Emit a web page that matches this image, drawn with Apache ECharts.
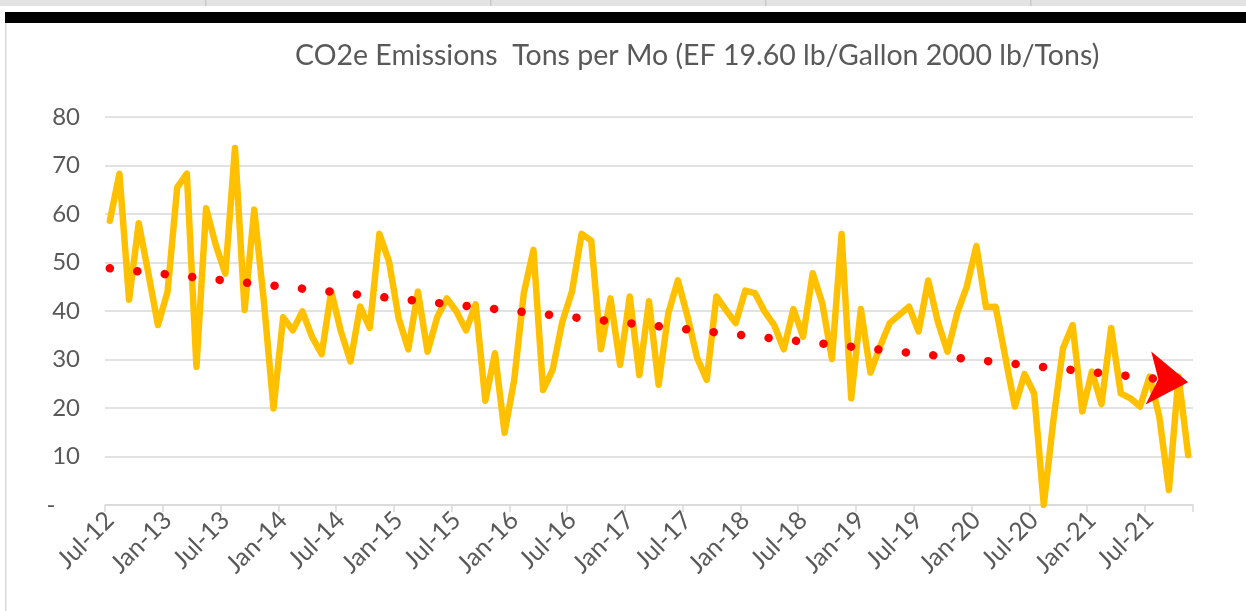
<!DOCTYPE html>
<html>
<head>
<meta charset="utf-8">
<script src="https://cdn.jsdelivr.net/npm/echarts@6/dist/echarts.min.js"></script>
<style>
html,body{margin:0;padding:0;background:#fff;}
#c{width:1246px;height:611px;}
</style>
</head>
<body>
<div id="c"></div>
<script>
// ---- data ----
const startYear = 2012, startMonth = 6; // Jul-12 (0-based month)
const monthNames = ['Jan','Feb','Mar','Apr','May','Jun','Jul','Aug','Sep','Oct','Nov','Dec'];
const emissions = [
  58.6, 68.3, 42.3, 58.1, 47.8, 37.1, 44.0, 65.5, 68.3, 28.5,
  61.2, 53.6, 47.7, 73.6, 40.2, 60.9, 42.0, 19.9, 38.7, 36.0,
  39.9, 34.7, 31.1, 44.0, 35.8, 29.6, 40.9, 36.5, 55.9, 50.2,
  38.5, 32.1, 44.0, 31.6, 38.7, 42.6, 39.9, 36.0, 41.4, 21.5,
  31.3, 14.9, 25.8, 43.7, 52.6, 23.7, 27.9, 37.8, 44.0, 55.9,
  54.5, 32.1, 42.6, 28.9, 43.0, 26.8, 42.0, 24.8, 39.5, 46.3,
  38.9, 30.3, 25.8, 43.0, 40.2, 37.5, 44.2, 43.7, 39.9, 37.1,
  32.1, 40.4, 34.7, 47.8, 41.6, 30.1, 55.9, 22.0, 40.4, 27.3,
  32.7, 37.5, 39.2, 40.9, 35.8, 46.3, 37.8, 31.6, 39.5, 45.0,
  53.4, 40.8, 40.9, 30.6, 20.3, 27.0, 23.0, 0.0, 17.5, 32.3,
  37.1, 19.3, 27.5, 20.8, 36.5, 23.0, 22.0, 20.3, 26.5, 18.2,
  3.1, 26.5, 10.3
];
const trendEnds = [48.8, 25.3]; // linear trendline, first and last month
const yTicks = [0, 10, 20, 30, 40, 50, 60, 70, 80];
const titleText = 'CO2e Emissions  Tons per Mo (EF 19.60 lb/Gallon 2000 lb/Tons)';

const categories = emissions.map((_, i) => {
  const m = startMonth + i;
  const y = startYear + Math.floor(m / 12);
  return monthNames[m % 12] + '-' + String(y % 100).padStart(2, '0');
});

const font = 'Lato, "Open Sans", sans-serif';
const chart = echarts.init(document.getElementById('c'), null, {renderer: 'canvas'});
chart.setOption({
  animation: false,
  backgroundColor: '#ffffff',
  title: {
    text: titleText,
    left: 290,
    top: 36,
    textStyle: {fontFamily: font, fontSize: 28.5, fontWeight: 'normal', color: '#595959'}
  },
  grid: {left: 105, right: 53, top: 117, bottom: 106},
  xAxis: {
    type: 'category',
    data: categories,
    boundaryGap: true,
    axisLine: {lineStyle: {color: '#d9d9d9', width: 1.5}},
    axisTick: {show: true, interval: 5, length: 7, lineStyle: {color: '#d9d9d9', width: 1.5}},
    axisLabel: {
      interval: 5, rotate: 45, margin: 11,
      fontFamily: font, fontSize: 25, color: '#595959'
    },
    splitLine: {show: false}
  },
  yAxis: {
    type: 'value',
    min: yTicks[0], max: yTicks[yTicks.length - 1], interval: yTicks[1] - yTicks[0],
    axisLine: {show: false},
    axisTick: {show: false},
    axisLabel: {
      margin: 25, fontFamily: font, fontSize: 24, color: '#595959',
      formatter: v => v === 0 ? '-    ' : String(v)
    },
    splitLine: {lineStyle: {color: '#d9d9d9', width: 1.5}}
  },
  series: [
    {
      type: 'line',
      data: emissions,
      showSymbol: false,
      symbol: 'none',
      lineStyle: {color: '#FFC000', width: 6.5, join: 'round', cap: 'round'},
      z: 2,
      markLine: {
        silent: true,
        z: 5,
        symbol: ['none', 'arrow'],
        symbolSize: [40, 40],
        label: {show: false},
        lineStyle: {color: '#FF0000', width: 8.5, type: [0.1, 27.5], cap: 'round'},
        data: [[
          {coord: [categories[0], trendEnds[0]]},
          {coord: [categories[categories.length - 1], trendEnds[1]]}
        ]]
      }
    }
  ],
  graphic: [
    {type: 'rect', shape: {x: 0, y: 0, width: 1246, height: 6}, style: {fill: '#e3e3e3'}, z: 10},
    {type: 'rect', shape: {x: 205, y: 0, width: 1.5, height: 6}, style: {fill: '#c8c8c8'}, z: 11},
    {type: 'rect', shape: {x: 490, y: 0, width: 1.5, height: 6}, style: {fill: '#c8c8c8'}, z: 11},
    {type: 'rect', shape: {x: 765, y: 0, width: 1.5, height: 6}, style: {fill: '#c8c8c8'}, z: 11},
    {type: 'rect', shape: {x: 1030, y: 0, width: 1.5, height: 6}, style: {fill: '#c8c8c8'}, z: 11},
    {type: 'rect', shape: {x: 5, y: 12, width: 1241, height: 11}, style: {fill: '#000000'}, z: 10},
    {type: 'rect', shape: {x: 5, y: 23, width: 1.5, height: 588}, style: {fill: '#d9d9d9'}, z: 10}
  ]
});
</script>
</body>
</html>
